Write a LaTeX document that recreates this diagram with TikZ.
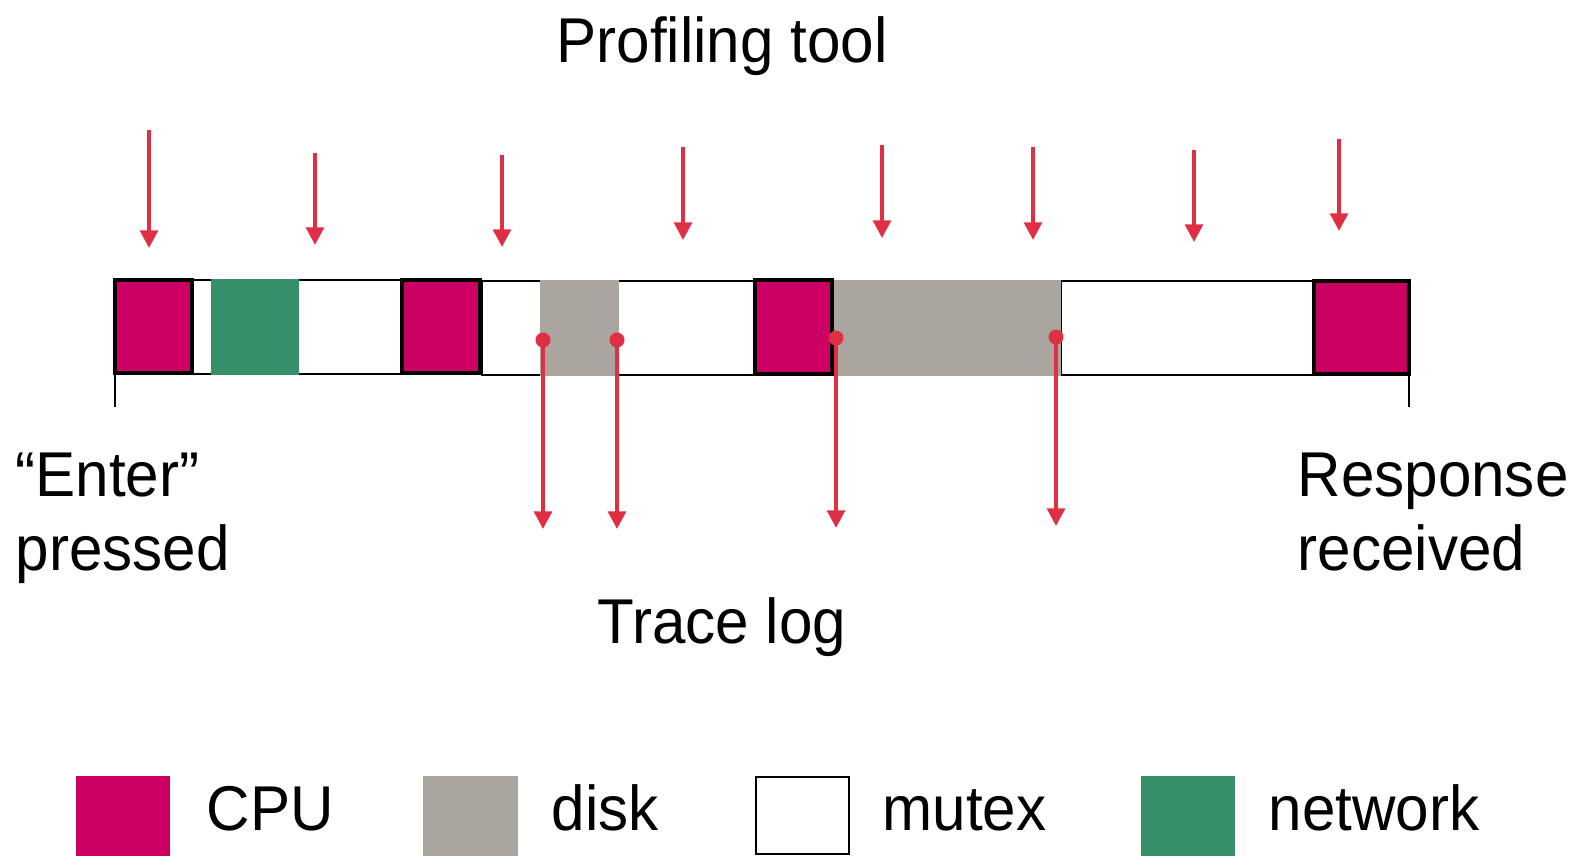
\documentclass[tikz,border=0pt]{standalone}
\usepackage{fontspec}
\setmainfont[FakeStretch=0.95]{Liberation Sans}
\usetikzlibrary{arrows.meta}
\definecolor{cpuc}{HTML}{CC0062}
\definecolor{diskc}{HTML}{AAA69F}
\definecolor{netc}{HTML}{358F69}
\definecolor{arrc}{HTML}{DF2F45}
\begin{document}
\begin{tikzpicture}[x=0.01cm,y=-0.01cm,
  lbl/.style={font=\fontsize{18}{22}\selectfont, inner sep=0pt},
  mutexbox/.style={draw=black, line width=0.7pt, fill=white},
  cpubox/.style={draw=black, line width=1.1pt, fill=cpuc},
  diskfill/.style={fill=diskc},
  netfill/.style={fill=netc},
  probe/.style={draw=arrc, line width=1.1pt, -{Triangle[width=5pt,length=5pt]}},
  tick/.style={draw=black, line width=0.7pt}
]
\useasboundingbox (0,0) rectangle (1570,856);
% timeline: mutex segments
\draw[mutexbox] (192,280) rectangle (402,374);
\draw[mutexbox] (482,281) rectangle (755,375);
\draw[mutexbox] (1061,281) rectangle (1314,375);
% network and disk
\fill[netfill] (211,279) rectangle (299,375);
\fill[diskfill] (540,280) rectangle (619,376);
\fill[diskfill] (833,280) rectangle (1061,376);
% CPU
\draw[cpubox] (115,280) rectangle (192,373);
\draw[cpubox] (402,280) rectangle (480,373);
\draw[cpubox] (755,280) rectangle (832,374);
\draw[cpubox] (1314,281) rectangle (1409,374);
% ticks
\coordinate (tl0) at (115,373); \coordinate (tl1) at (115,407);
\coordinate (tr0) at (1409,374); \coordinate (tr1) at (1409,407);
\draw[tick] (tl0) -- (tl1);
\draw[tick] (tr0) -- (tr1);
% profiling arrows
\foreach \i/\x/\ya/\yb in {1/149/130/248,2/315/153/245,3/502/155/247,4/683/147/240,5/882/145/238,6/1033/147/240,7/1194/150/242,8/1339/139/231}{
  \coordinate (ps\i) at (\x,\ya);
  \coordinate (pe\i) at (\x,\yb);
  \draw[probe] (ps\i) -- (pe\i);
}
% trace arrows
\foreach \i/\x/\ya/\yb in {1/543/340/529,2/617/340/529,3/836/338/528,4/1056/337/526}{
  \coordinate (ts\i) at (\x,\ya);
  \coordinate (te\i) at (\x,\yb);
  \draw[probe] (ts\i) -- (te\i);
  \fill[arrc] (ts\i) circle (7.5);
}
% labels
\node[lbl, anchor=base] (title) at (722,62) {Profiling tool};
\node[lbl, anchor=base] (trace) at (722,643) {Trace log};
\node[lbl, anchor=base west] (enter) at (15,496) {“Enter”};
\node[lbl, anchor=base west] (pressed) at (15,570) {pressed};
\node[lbl, anchor=base west] (resp) at (1297,496) {Response};
\node[lbl, anchor=base west] (recv) at (1297,570) {received};
% legend
\fill[cpuc] (76,776) rectangle (170,856);
\fill[diskc] (423,776) rectangle (518,856);
\draw[mutexbox] (756,777) rectangle (849,854);
\fill[netc] (1141,776) rectangle (1235,856);
\node[lbl, anchor=base west] (lcpu) at (206,830) {CPU};
\node[lbl, anchor=base west] (ldisk) at (551,830) {disk};
\node[lbl, anchor=base west] (lmutex) at (882,830) {mutex};
\node[lbl, anchor=base west] (lnet) at (1268,830) {network};
\end{tikzpicture}
\end{document}
